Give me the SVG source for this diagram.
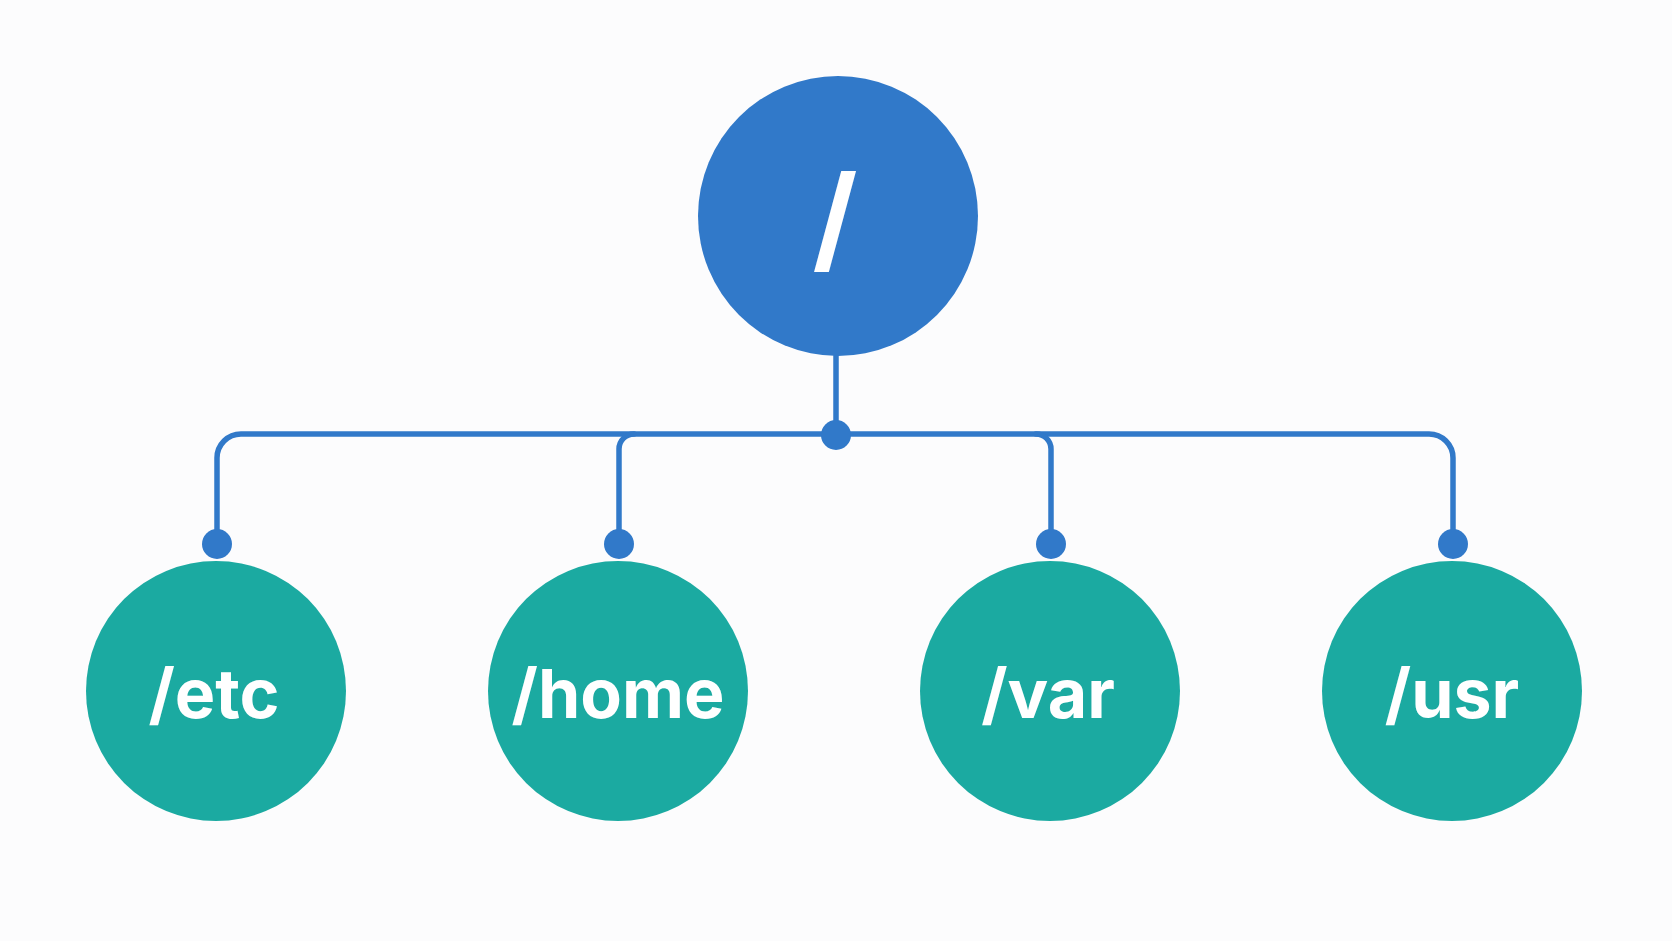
<svg xmlns="http://www.w3.org/2000/svg" width="1672" height="941" viewBox="0 0 1672 941">
<style>
.bg{fill:#fcfcfd}
.root{fill:#3179c9}
.child{fill:#1baaa1}
.lbl{fill:#ffffff;font-family:Inter,"Liberation Sans",sans-serif;font-weight:700;text-anchor:middle}
.conn{fill:none;stroke:#3179c9;stroke-width:5.5;stroke-linecap:round;stroke-linejoin:round}
.dot{fill:#3179c9}
</style>
<rect class="bg" x="0" y="0" width="1672" height="941"/>
<g id="connectors">
<path class="conn" d="M836 356 V434"/>
<path class="conn" d="M217 544 V458 A24 24 0 0 1 241 434 H1429 A24 24 0 0 1 1453 458 V544"/>
<path class="conn" d="M619 544 V449 A15 15 0 0 1 634 434"/>
<path class="conn" d="M1051 544 V449 A15 15 0 0 0 1036 434"/>
<circle class="dot" cx="836" cy="435" r="15"/>
<circle class="dot" cx="217" cy="544" r="15"/>
<circle class="dot" cx="619" cy="544" r="15"/>
<circle class="dot" cx="1051" cy="544" r="15"/>
<circle class="dot" cx="1453" cy="544" r="15"/>
</g>
<g id="node-root">
<circle class="root" cx="838" cy="216" r="140"/>
<text class="lbl" x="835" y="259" font-size="116">/</text>
</g>
<g id="node-etc">
<circle class="child" cx="216" cy="691" r="130"/>
<text class="lbl" x="214" y="718" font-size="68">/etc</text>
</g>
<g id="node-home">
<circle class="child" cx="618" cy="691" r="130"/>
<text class="lbl" x="618" y="718" font-size="68">/home</text>
</g>
<g id="node-var">
<circle class="child" cx="1050" cy="691" r="130"/>
<text class="lbl" x="1048" y="718" font-size="68">/var</text>
</g>
<g id="node-usr">
<circle class="child" cx="1452" cy="691" r="130"/>
<text class="lbl" x="1452" y="718" font-size="68">/usr</text>
</g>
</svg>
